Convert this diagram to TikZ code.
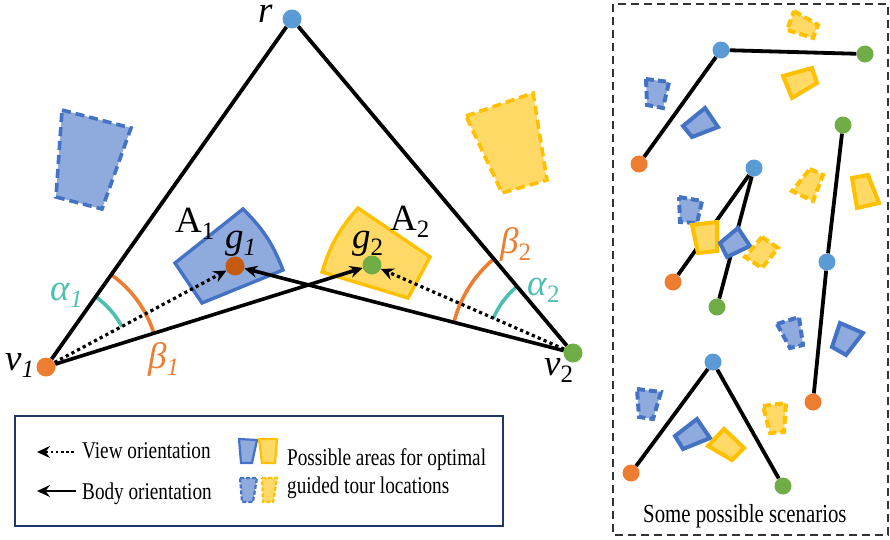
\documentclass[tikz,border=0pt]{standalone}
\usepackage{fontspec}
\setmainfont{Liberation Serif}
\newfontfamily\legfont{Liberation Serif}[FakeStretch=0.8]
\usetikzlibrary{arrows.meta}
\definecolor{cblue}{HTML}{5B9BD5}
\definecolor{cgreen}{HTML}{70AD47}
\definecolor{corange}{HTML}{ED7D31}
\definecolor{cdorange}{HTML}{C55A11}
\definecolor{cteal}{HTML}{4DBFB0}
\definecolor{afill}{HTML}{8FAADC}
\definecolor{aline}{HTML}{4472C4}
\definecolor{yfill}{HTML}{FFD966}
\definecolor{yline}{HTML}{FFC000}
\definecolor{navy}{HTML}{203864}
\newcommand\lsub[1]{\raisebox{-7pt}{\fontsize{25}{27}\selectfont #1}}
\tikzset{
  ptdot/.style={circle, fill=#1, inner sep=0pt, minimum size=19pt},
  smdot/.style={circle, fill=#1, inner sep=0pt, minimum size=17pt},
  seg/.style={line width=3.8pt, black},
  tip/.style={-{Stealth[length=13pt,width=12pt,inset=4.5pt]}},
  viewarrow/.style={line width=3.2pt, dash pattern=on 3.2pt off 3.2pt, tip},
  bodyarrow/.style={line width=3.6pt, tip},
  bsolid/.style={fill=afill, draw=aline, line width=3.4pt, line join=miter},
  bdash/.style={fill=afill, draw=aline, line width=3.6pt, dash pattern=on 9pt off 5pt},
  ysolid/.style={fill=yfill, draw=yline, line width=3.4pt, line join=miter},
  ydash/.style={fill=yfill, draw=yline, line width=3.6pt, dash pattern=on 9pt off 5pt},
  smb/.style={bsolid, line width=4pt},
  smbd/.style={bdash, line width=4pt, dash pattern=on 8pt off 4pt},
  smy/.style={ysolid, line width=4pt},
  smyd/.style={ydash, line width=4pt, dash pattern=on 8pt off 4pt},
  lbl/.style={font=\fontsize{37}{39}\selectfont, inner sep=0pt},
  legtext/.style={font=\legfont\fontsize{24}{26}\selectfont, inner sep=0pt, anchor=base west},
}
\begin{document}
\begin{tikzpicture}[x=1pt,y=-1pt]
\useasboundingbox (0,0) rectangle (890,539);

% big dashed areas
\draw[bdash] (62,110) -- (131,128) -- (102,209) -- (56,197) -- cycle;
\draw[ydash] (466,116) -- (533,93) -- (547,180) -- (502,193) -- cycle;

% areas A1, A2
\draw[bsolid] (175,263) -- (243,209) to[bend left=12] (283,270) -- (202,303) -- cycle;
\draw[ysolid] (322,272) to[bend left=12] (358,208) -- (430,257) -- (408,298) -- cycle;

% main nodes
\node[ptdot=cblue] (r) at (292,19) {};
\node[ptdot=corange] (v1) at (46,367) {};
\node[ptdot=cgreen] (v2) at (573,353) {};
\node[ptdot=cdorange] (g1) at (235,266) {};
\node[ptdot=cgreen] (g2) at (372,265) {};

% angle arcs
\draw[cteal, line width=3.6pt] (v1.center) ++(-54.7:86) arc[start angle=-54.7, end angle=-28.1, radius=86];
\draw[corange, line width=3.6pt] (v1.center) ++(-54.7:113) arc[start angle=-54.7, end angle=-17.4, radius=113];
\draw[cteal, line width=3.6pt] (v2.center) ++(-130.1:87) arc[start angle=-130.1, end angle=-156.4, radius=87];
\draw[corange, line width=3.6pt] (v2.center) ++(-130.1:123) arc[start angle=-130.1, end angle=-165.6, radius=123];

% edges
\draw[seg] (r) -- (v1);
\draw[seg] (r) -- (v2);
\draw[bodyarrow] (v1) -- (g2);
\draw[bodyarrow] (v2) -- (g1);
\draw[viewarrow] (v1) -- (g1);
\draw[viewarrow] (v2) -- (g2);

% labels
\node[lbl, anchor=base west] (lr) at (258,22) {\textit{r}};
\node[lbl, anchor=base west] (lv1) at (5,370) {\textit{v}\lsub{\textit{1}}};
\node[lbl, anchor=base west] (lv2) at (544,375) {\textit{v}\lsub{2}};
\node[lbl, anchor=base west, text=cteal] (la1) at (50,300) {\textit{α}\lsub{\textit{1}}};
\node[lbl, anchor=base west, text=corange] (lb1) at (148,368) {\textit{β}\lsub{\textit{1}}};
\node[lbl, anchor=base west, text=cteal] (la2) at (527,295) {\textit{α}\lsub{2}};
\node[lbl, anchor=base west, text=corange] (lb2) at (500,253) {\textit{β}\lsub{2}};
\node[lbl, anchor=base west] (lA1) at (175,232) {A\lsub{1}};
\node[lbl, anchor=base west] (lg1) at (225,248) {\textit{g}\lsub{\textit{1}}};
\node[lbl, anchor=base west] (lA2) at (390,230) {A\lsub{2}};
\node[lbl, anchor=base west] (lg2) at (352,248) {\textit{g}\lsub{2}};

% legend
\draw[navy, line width=2.2pt] (15,416) rectangle (503,526);
\coordinate (va) at (74,452);
\coordinate (vb) at (37,452);
\coordinate (ba) at (76,491);
\coordinate (bb) at (37,491);
\draw[viewarrow, line width=2.6pt, dash pattern=on 2.6pt off 2.6pt] (va) -- (vb);
\draw[bodyarrow, line width=2.8pt] (ba) -- (bb);
\node[legtext] (tv) at (82,458) {View orientation};
\node[legtext] (tb) at (82,499) {Body orientation};
\draw[bsolid, line width=2.2pt] (239,439) -- (257,440) -- (252,463) -- (241,463) -- cycle;
\draw[ysolid, line width=2.2pt] (259,439) -- (277,439) -- (275,463) -- (262,463) -- cycle;
\draw[bdash, line width=2.2pt, dash pattern=on 4pt off 2pt] (240,478) -- (257,478) -- (253,502) -- (242,502) -- cycle;
\draw[ydash, line width=2.2pt, dash pattern=on 4pt off 2pt] (262,478) -- (277,478) -- (273,502) -- (263,502) -- cycle;
\node[legtext] (tp) at (287,465) {Possible areas for optimal};
\node[legtext] (tg) at (287,493) {guided tour locations};

% right panel
\draw[black!80, line width=1.6pt, dash pattern=on 8pt off 5pt] (613,4) rectangle (888,535);

% small areas
\draw[smyd] (794,11) -- (818,25) -- (813,38) -- (787,30) -- cycle;
\draw[smy] (783,76) -- (812,68) -- (817,83) -- (792,98) -- cycle;
\draw[smbd] (646,79) -- (669,82) -- (663,108) -- (647,105) -- cycle;
\draw[smb] (683,126) -- (705,108) -- (718,127) -- (692,137) -- cycle;
\draw[smyd] (810,169) -- (823,175) -- (813,201) -- (792,191) -- cycle;
\draw[smy] (852,178) -- (868,175) -- (879,203) -- (857,208) -- cycle;
\draw[smbd] (679,197) -- (702,201) -- (697,223) -- (680,222) -- cycle;
\draw[smbd] (777,324) -- (799,317) -- (803,345) -- (790,348) -- cycle;
\draw[smb] (840,323) -- (863,333) -- (846,355) -- (832,347) -- cycle;
\draw[smbd] (637,389) -- (661,392) -- (653,419) -- (639,417) -- cycle;
\draw[smyd] (763,406) -- (786,403) -- (784,432) -- (770,433) -- cycle;
\draw[smb] (675,436) -- (697,419) -- (710,438) -- (683,449) -- cycle;
\draw[smy] (708,446) -- (724,429) -- (744,448) -- (732,460) -- cycle;

% trees
\node[smdot=cblue] (ta) at (721,50) {};
\node[smdot=cgreen] (tb1) at (865,54) {};
\node[smdot=corange] (tc) at (639,164) {};
\draw[seg] (ta) -- (tb1);
\draw[seg] (ta) -- (tc);

\node[smdot=cblue] (ua) at (754,168) {};
\node[smdot=corange] (ub) at (673,282) {};
\node[smdot=cgreen] (uc) at (717,307) {};
\draw[seg] (ua) -- (ub);
\draw[seg] (ua) -- (uc);

% overlapping areas drawn above tree 2
\draw[smy] (692,225) -- (717,222) -- (717,251) -- (698,253) -- cycle;
\draw[smb] (720,243) -- (738,228) -- (750,246) -- (727,257) -- cycle;
\draw[smyd] (762,237) -- (778,248) -- (762,268) -- (745,257) -- cycle;

\node[smdot=cgreen] (wa) at (843,125) {};
\node[smdot=cblue] (wb) at (827,262) {};
\node[smdot=corange] (wc) at (813,402) {};
\draw[seg] (wa) -- (wb);
\draw[seg] (wb) -- (wc);

\node[smdot=cblue] (xa) at (713,362) {};
\node[smdot=corange] (xb) at (631,473) {};
\node[smdot=cgreen] (xc) at (783,486) {};
\draw[seg] (xa) -- (xb);
\draw[seg] (xa) -- (xc);

\node[legtext, font=\legfont\fontsize{26}{28}\selectfont] (ts) at (643,522) {Some possible scenarios};
\end{tikzpicture}
\end{document}
